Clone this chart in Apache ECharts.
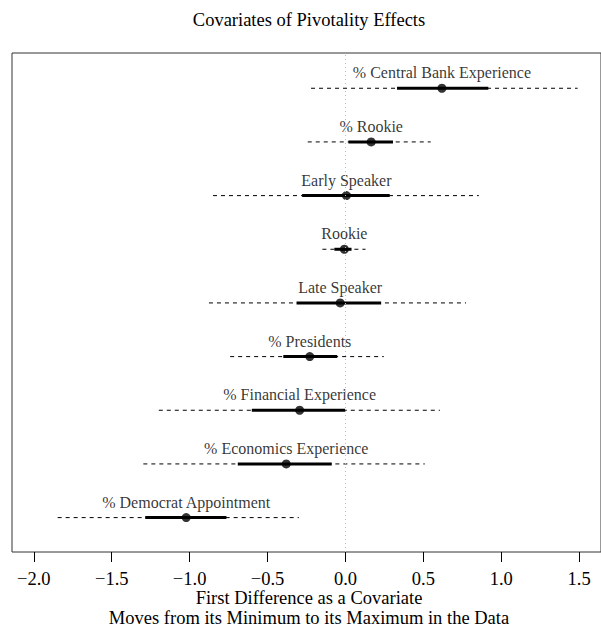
<!DOCTYPE html>
<html>
<head>
<meta charset="utf-8">
<script src="https://cdn.jsdelivr.net/npm/echarts@6/dist/echarts.min.js"></script>
<style>
html,body{margin:0;padding:0;background:#fff;}
#chart{width:601px;height:627px;}
</style>
</head>
<body>
<div id="chart"></div>
<script>
// Covariate names, top to bottom
var covariates = [
  "% Central Bank Experience",
  "% Rookie",
  "Early Speaker",
  "Rookie",
  "Late Speaker",
  "% Presidents",
  "% Financial Experience",
  "% Economics Experience",
  "% Democrat Appointment"
];
// Point estimates (first differences)
var estimates = [0.619, 0.165, 0.006, -0.007, -0.034, -0.229, -0.294, -0.380, -1.022];
// Inner (thick) interval
var innerLow  = [0.331, 0.019, -0.278, -0.071, -0.314, -0.399, -0.601, -0.691, -1.285];
var innerHigh = [0.917, 0.305, 0.284, 0.039, 0.229, -0.053, -0.003, -0.088, -0.764];
// Outer (dashed) interval
var outerLow  = [-0.221, -0.242, -0.850, -0.148, -0.876, -0.740, -1.198, -1.297, -1.847];
var outerHigh = [1.490, 0.547, 0.856, 0.129, 0.774, 0.246, 0.606, 0.509, -0.299];
// X tick values
var xTicks = [-2.0, -1.5, -1.0, -0.5, 0.0, 0.5, 1.0, 1.5];
// Text
var chartTitle = 'Covariates of Pivotality Effects';
var xTitleLines = ['First Difference as a Covariate', 'Moves from its Minimum to its Maximum in the Data'];

var FONT = "'Liberation Serif', 'Times New Roman', serif";
var n = covariates.length;
function rowY(i) { return n - i; }

var outerData = covariates.map(function (c, i) { return [outerLow[i], outerHigh[i], rowY(i)]; });
var innerData = covariates.map(function (c, i) { return [innerLow[i], innerHigh[i], rowY(i)]; });
var pointData = covariates.map(function (c, i) { return [estimates[i], rowY(i)]; });

function segRenderer(style) {
  return function (params, api) {
    var p1 = api.coord([api.value(0), api.value(2)]);
    var p2 = api.coord([api.value(1), api.value(2)]);
    return {
      type: 'line',
      shape: { x1: p1[0], y1: p1[1], x2: p2[0], y2: p2[1] },
      style: style
    };
  };
}

function textEl(str, y) {
  return {
    type: 'text',
    x: 309, y: y,
    style: {
      text: str,
      textAlign: 'center', textVerticalAlign: 'middle',
      fontFamily: FONT, fontSize: 18.5, lineHeight: 12, fill: '#000'
    }
  };
}

var chart = echarts.init(document.getElementById('chart'), null, { renderer: 'svg' });
chart.setOption({
  animation: false,
  backgroundColor: '#fff',
  graphic: [
    textEl(chartTitle, 20),
    textEl(xTitleLines[0], 598),
    textEl(xTitleLines[1], 618)
  ],
  grid: {
    left: 12, right: -5, top: 53, bottom: 75,
    show: true, borderColor: '#333', borderWidth: 1, backgroundColor: 'transparent'
  },
  xAxis: {
    type: 'value',
    min: -2.14, max: 1.64,
    axisLine: { show: false },
    splitLine: { show: false },
    axisTick: { show: true, length: 10, customValues: xTicks, lineStyle: { color: '#000', width: 1 } },
    axisLabel: {
      customValues: xTicks,
      margin: 21,
      lineHeight: 12,
      fontFamily: FONT, fontSize: 18.5, color: '#000',
      formatter: function (v) {
        var s = Math.abs(v).toFixed(1);
        return (v < 0 ? '\u2212' : '') + s;
      }
    }
  },
  yAxis: {
    type: 'value',
    min: 0.359, max: 9.657,
    axisLine: { show: false },
    axisTick: { show: false },
    axisLabel: { show: false },
    splitLine: { show: false }
  },
  series: [
    {
      type: 'custom',
      data: outerData,
      renderItem: segRenderer({ stroke: '#000', lineWidth: 1, lineDash: [4, 4] }),
      silent: true,
      z: 2,
      markLine: {
        silent: true,
        symbol: 'none',
        label: { show: false },
        lineStyle: { color: '#bbb', type: [1, 3], width: 1 },
        data: [{ xAxis: 0 }]
      }
    },
    {
      type: 'custom',
      data: innerData,
      renderItem: segRenderer({ stroke: '#000', lineWidth: 3 }),
      silent: true,
      z: 3
    },
    {
      type: 'scatter',
      data: pointData,
      symbol: 'circle',
      symbolSize: 9,
      itemStyle: { color: '#000' },
      z: 4,
      label: {
        show: true,
        position: 'top',
        distance: 3,
        fontFamily: FONT, fontSize: 16, color: '#000',
        formatter: function (p) { return covariates[p.dataIndex]; }
      }
    }
  ]
});
</script>
</body>
</html>
